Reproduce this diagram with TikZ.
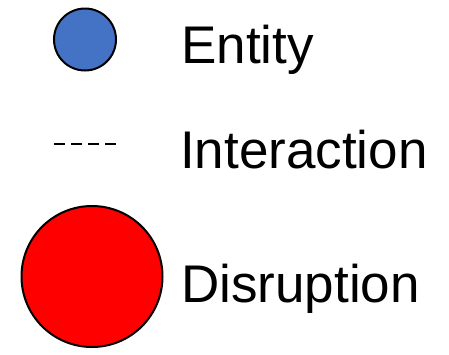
\documentclass[tikz,border=0pt]{standalone}
\usepackage{fontspec}
\setmainfont{Liberation Sans}
\definecolor{entblue}{HTML}{4472C4}
\definecolor{disred}{HTML}{FF0000}
\begin{document}
\begin{tikzpicture}[x=1pt,y=-1pt,
  legtext/.style={anchor=base west,inner sep=0pt,font=\fontsize{53}{60}\selectfont},
  entcircle/.style={circle,draw=black,line width=2pt,fill=entblue,minimum size=62pt,inner sep=0pt},
  discircle/.style={circle,draw=black,line width=2pt,fill=disred,minimum size=141pt,inner sep=0pt},
  interline/.style={line width=1.3pt,dash pattern=on 11pt off 6pt}]
\useasboundingbox (0,0) rectangle (449,354);
\node[entcircle] (ent) at (85,39.5) {};
\node[legtext] (entlbl) at (181,63) {Entity};
\coordinate (ia) at (54,144);
\coordinate (ib) at (120,144);
\draw[interline] (ia) -- (ib);
\node[legtext] (intlbl) at (180,168) {Interaction};
\node[discircle] (dis) at (92,276.5) {};
\node[legtext] (dislbl) at (181,302.5) {Disruption};
\end{tikzpicture}
\end{document}
